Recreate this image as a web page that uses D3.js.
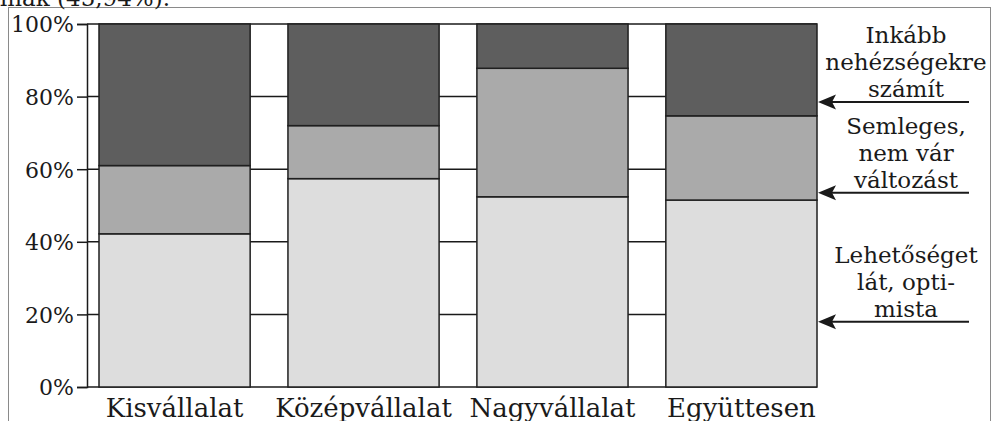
<!DOCTYPE html>
<html>
<head>
<meta charset="utf-8">
<script src="https://cdn.jsdelivr.net/npm/d3@7"></script>
<style>
  html, body { margin: 0; padding: 0; background: #fff; }
  svg { display: block; }
  text { font-family: "DejaVu Serif", serif; fill: #1a1a1a; }
</style>
</head>
<body>
<svg id="chart" width="991" height="421"></svg>
<script>
// ---- data ----
const categories = ["Kisvállalat", "Középvállalat", "Nagyvállalat", "Együttesen"];
const seriesNames = ["Lehetőséget látó, optimista", "Semleges, nem vár változást", "Inkább nehézségekre számít"];
const optimista = [42.2, 57.4, 52.4, 51.5];
const semleges  = [18.8, 14.6, 35.4, 23.2];
const nehez     = [39.0, 28.0, 12.2, 25.3];
const yTicks = [0, 20, 40, 60, 80, 100];
const tickLabels = ["0%", "20%", "40%", "60%", "80%", "100%"];
const legendLines = [
  ["Lehetőséget", "lát, opti-", "mista"],
  ["Semleges,", "nem vár", "változást"],
  ["Inkább", "nehézségekre", "számít"]
];
const legendArrowAt = [18, 53.5, 78.5];
const topText = "alnak (45,94%).";

// ---- styles ----
const colors = ["#dddddd", "#aaaaaa", "#5e5e5e"];
const svg = d3.select("#chart");

// outer frame
svg.append("rect").attr("x", 8.5).attr("y", 7.5).attr("width", 982).attr("height", 430)
  .attr("fill", "none").attr("stroke", "#8a8a8a").attr("stroke-width", 1);

// cut-off text at top
svg.append("text").attr("x", 170).attr("y", 6).attr("text-anchor", "end")
  .attr("font-size", 23).text(topText);

const x = d3.scaleBand().domain(categories).range([99, 817]).paddingInner(0.2).paddingOuter(0);
const y = d3.scaleLinear().domain([0, 100]).range([387, 24]);
const plotLeft = 87, plotRight = 817;

// gridlines
svg.append("g").selectAll("line").data(yTicks).join("line")
  .attr("x1", plotLeft).attr("x2", plotRight)
  .attr("y1", d => y(d)).attr("y2", d => y(d))
  .attr("stroke", "#1a1a1a").attr("stroke-width", 1.5);

// y axis
const yAxis = d3.axisLeft(y).tickValues(yTicks).tickSize(10).tickPadding(3)
  .tickFormat((d, i) => tickLabels[i]);
const ga = svg.append("g").attr("transform", `translate(${plotLeft},0)`).call(yAxis);
ga.select(".domain").attr("stroke", "#1a1a1a").attr("stroke-width", 1.5);
ga.selectAll(".tick line").attr("stroke", "#1a1a1a").attr("stroke-width", 1.5);
ga.selectAll(".tick text").attr("font-size", 22).attr("font-family", "DejaVu Serif")
  .attr("fill", "#1a1a1a").attr("dy", "0.36em");

// stacked data
const rows = categories.map((c, i) => ({ cat: c, s0: optimista[i], s1: semleges[i], s2: nehez[i] }));
const stack = d3.stack().keys(["s0", "s1", "s2"])(rows);

svg.append("g").selectAll("g").data(stack).join("g")
  .attr("fill", (d, i) => colors[i])
  .selectAll("rect").data(d => d).join("rect")
  .attr("x", d => x(d.data.cat))
  .attr("width", x.bandwidth())
  .attr("y", d => y(d[1]))
  .attr("height", d => y(d[0]) - y(d[1]))
  .attr("stroke", "#1f1f1f").attr("stroke-width", 1.5);

// x labels
const xAxis = d3.axisBottom(x).tickSize(0).tickPadding(0);
const gx = svg.append("g").attr("transform", "translate(0,417)").call(xAxis);
gx.select(".domain").remove();
gx.selectAll(".tick text").attr("font-size", 26).attr("font-family", "DejaVu Serif")
  .attr("fill", "#1a1a1a").attr("dy", 0);

// legend labels with arrows
const labelX = 906, lineH = 27;
legendLines.forEach((lines, i) => {
  const ay = y(legendArrowAt[i]);
  const lastBase = ay - 5;
  const g = svg.append("g");
  lines.forEach((t, j) => {
    g.append("text").attr("x", labelX).attr("y", lastBase - (lines.length - 1 - j) * lineH)
      .attr("text-anchor", "middle").attr("font-size", 23).text(t);
  });
  g.append("line").attr("x1", 832).attr("x2", 969).attr("y1", ay).attr("y2", ay)
    .attr("stroke", "#1a1a1a").attr("stroke-width", 2);
  g.append("path").attr("d", `M${818},${ay} L${836},${ay - 7.5} L${832},${ay} L${836},${ay + 7.5} Z`)
    .attr("fill", "#1a1a1a");
});
</script>
</body>
</html>
